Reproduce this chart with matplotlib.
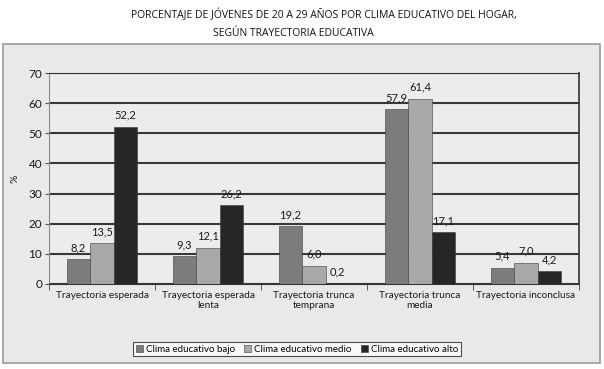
import numpy as np
from matplotlib import pyplot as plt
from matplotlib.patches import Rectangle

categories = ['Trayectoria esperada', 'Trayectoria esperada\nlenta', 'Trayectoria trunca\ntemprana',
              'Trayectoria trunca\nmedia', 'Trayectoria inconclusa']
series_names = ['Clima educativo bajo', 'Clima educativo medio', 'Clima educativo alto']
bajo = [8.2, 9.3, 19.2, 57.9, 5.4]
medio = [13.5, 12.1, 6.0, 61.4, 7.0]
alto = [52.2, 26.2, 0.2, 17.1, 4.2]
colors = ['#7c7c7c', '#a8a8a8', '#262626']

plt.rcParams['font.family'] = ['Open Sans', 'DejaVu Sans']
narrow = ['Lato', 'DejaVu Sans']

fig = plt.figure(figsize=(6.04, 3.69), dpi=100)
fig.patches.append(Rectangle((3 / 604, 1 - 363 / 369), 597 / 604, 319 / 369, transform=fig.transFigure,
                             facecolor='#e9e9e9', edgecolor='#9a9a9a', linewidth=1.2, zorder=-10))

fig.text(131 / 604, 1 - 15 / 369, 'PORCENTAJE DE JÓVENES DE 20 A 29 AÑOS POR CLIMA EDUCATIVO DEL HOGAR,',
         fontsize=7.5, color='#111111', va='center', ha='left')
fig.text(213 / 604, 1 - 33 / 369, 'SEGÚN TRAYECTORIA EDUCATIVA',
         fontsize=7.5, color='#111111', va='center', ha='left')

ax = fig.add_axes([49 / 604, 1 - 284 / 369, 530 / 604, 211 / 369])
ax.set_facecolor('#ececec')

x = np.arange(len(categories))
w = 0.222
for i, (vals, name) in enumerate(zip([bajo, medio, alto], series_names)):
    pos = x + (i - 1) * w
    ax.bar(pos, vals, width=w, color=colors[i], edgecolor='#3a3a3a', linewidth=0.4, label=name, zorder=3)
    for p, v in zip(pos, vals):
        ax.text(p, v + 2.0, f'{v:.1f}'.replace('.', ','), ha='center', va='bottom',
                fontsize=8, color='#1a1a1a', family=narrow)

ax.set_xlim(-0.5, len(categories) - 0.5)
ax.set_ylim(0, 70)
ax.set_yticks(range(0, 71, 10))
ax.yaxis.grid(True, color='#383838', linewidth=1.5, zorder=1)
ax.set_axisbelow(True)
ax.tick_params(axis='y', labelsize=8.5, length=3, color='#555555', pad=2, labelcolor='#1a1a1a')
for lab in ax.get_yticklabels():
    lab.set_family(narrow)

ax.set_xticks(x)
ax.set_xticklabels(categories, fontsize=7.2, color='#1a1a1a', linespacing=1.15, family=narrow)
ax.tick_params(axis='x', length=0, pad=5)
ax.set_xticks(np.arange(-0.5, len(categories)), minor=True)
ax.tick_params(axis='x', which='minor', length=4, color='#444444')

ax.spines['left'].set_color('#8a8a8a')
ax.spines['bottom'].set_color('#333333')
ax.spines['right'].set_color('#333333')
ax.spines['top'].set_color('#333333')
ax.spines['right'].set_linewidth(1.2)

ax.set_ylabel('%', fontsize=7.5, color='#1a1a1a', labelpad=6, family=narrow)

leg = fig.legend(loc='center', bbox_to_anchor=(297 / 604, 1 - 349 / 369), ncol=3,
                 prop={'family': narrow, 'size': 7},
                 frameon=True, fancybox=False, handlelength=0.7, handleheight=0.7,
                 handletextpad=0.3, columnspacing=1.0, borderpad=0.3, borderaxespad=0)
leg.get_frame().set_edgecolor('#222222')
leg.get_frame().set_facecolor('white')
leg.get_frame().set_linewidth(0.8)

fig.savefig('out.png', dpi=100)
